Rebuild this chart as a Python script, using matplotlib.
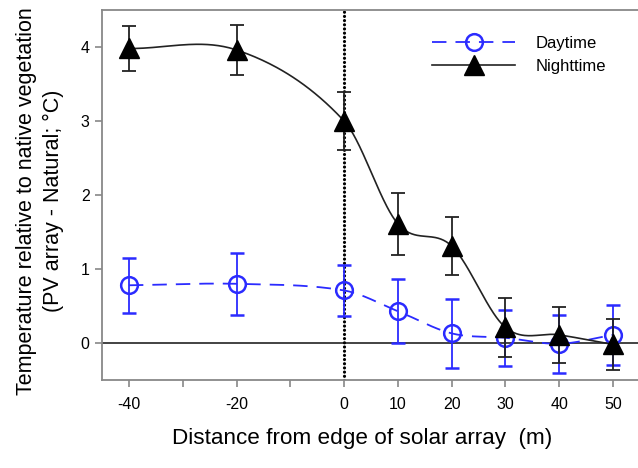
import numpy as np
import matplotlib
matplotlib.use("Agg")
import matplotlib.pyplot as plt
from matplotlib.lines import Line2D

plt.rcParams['font.family'] = ['Liberation Sans', 'DejaVu Sans']
plt.rcParams['axes.unicode_minus'] = False

# ---- data ----
distance = [-40, -20, 0, 10, 20, 30, 40, 50]
day_mean = [0.78, 0.80, 0.71, 0.43, 0.13, 0.07, -0.01, 0.11]
day_err = [0.37, 0.42, 0.34, 0.43, 0.47, 0.38, 0.39, 0.41]
night_mean = [3.98, 3.96, 3.00, 1.61, 1.31, 0.21, 0.11, -0.02]
night_err = [0.30, 0.34, 0.39, 0.42, 0.39, 0.40, 0.38, 0.34]
x_ticks = [-40, -20, 0, 10, 20, 30, 40, 50]
y_ticks = [0, 1, 2, 3, 4]


def spline_curve(x, y, n=60):
    """Catmull-Rom (cardinal) Hermite spline through the data points."""
    x = np.asarray(x, float)
    y = np.asarray(y, float)
    k = len(x)
    m = np.zeros(k)
    m[0] = (y[1] - y[0]) / (x[1] - x[0])
    m[-1] = (y[-1] - y[-2]) / (x[-1] - x[-2])
    for i in range(1, k - 1):
        m[i] = (y[i + 1] - y[i - 1]) / (x[i + 1] - x[i - 1])
    xs_all, ys_all = [], []
    for i in range(k - 1):
        h = x[i + 1] - x[i]
        t = np.linspace(0, 1, n)
        h00 = 2 * t ** 3 - 3 * t ** 2 + 1
        h10 = t ** 3 - 2 * t ** 2 + t
        h01 = -2 * t ** 3 + 3 * t ** 2
        h11 = t ** 3 - t ** 2
        xs_all.append(x[i] + t * h)
        ys_all.append(h00 * y[i] + h10 * h * m[i] + h01 * y[i + 1] + h11 * h * m[i + 1])
    return np.concatenate(xs_all), np.concatenate(ys_all)


blue = '#2b2bff'
fig = plt.figure(figsize=(6.38, 4.68), dpi=100)
ax = fig.add_axes([102 / 638, 88 / 468, 538 / 638, 370 / 468])

ax.axhline(0, color='#222222', lw=1.2, zorder=1)
ax.axvline(0, color='black', lw=2.3, linestyle=(0, (0.01, 1.3)),
           dash_capstyle='round', zorder=1)

# daytime
xs, ys = spline_curve(distance, day_mean)
ax.plot(xs, ys, color=blue, lw=1.3, dashes=(8, 5), zorder=2)
ax.errorbar(distance, day_mean, yerr=day_err, fmt='o', color=blue,
            mfc='none', mec=blue, mew=1.8, ms=12, ecolor=blue, elinewidth=1.3,
            capsize=5, capthick=1.3, zorder=3)

# nighttime
xs, ys = spline_curve(distance, night_mean)
ax.plot(xs, ys, color='#222222', lw=1.2, zorder=4)
ax.errorbar(distance, night_mean, yerr=night_err, fmt='^', color='black',
            ms=14, ecolor='#222222', elinewidth=1.3, capsize=5, capthick=1.3,
            zorder=5)

ax.set_xlim(-45, 55)
ax.set_ylim(-0.5, 4.5)
ax.set_xticks(x_ticks)
ax.set_xticks([-30, -10], minor=True)
ax.set_yticks(y_ticks)
ax.tick_params(axis='both', which='both', direction='out', length=5,
               width=1.2, color='#888888', labelsize=11.5, pad=4)
ax.tick_params(axis='x', pad=7)
for s in ['left', 'bottom', 'top']:
    ax.spines[s].set_color('#888888')
    ax.spines[s].set_linewidth(1.3)
ax.spines['right'].set_visible(False)

ax.set_xlabel('Distance from edge of solar array  (m)', fontsize=16.2)
ax.xaxis.set_label_coords((362 - 102) / 538, -48 / 370)
ax.set_ylabel('Temperature relative to native vegetation\n(PV array - Natural; °C)',
              fontsize=15.5, linespacing=1.38)
ax.yaxis.set_label_coords(-38 / 538, (380 - 201) / 370)

handles = [
    Line2D([], [], color=blue, lw=1.3, dashes=(8, 5), marker='o', ms=12,
           mfc='none', mec=blue, mew=1.8),
    Line2D([], [], color='#222222', lw=1.2, marker='^', ms=14, mfc='black',
           mec='black'),
]
ax.legend(handles, ['Daytime', 'Nighttime'], loc='upper left',
          bbox_to_anchor=(315 / 538, 0.97), frameon=False, fontsize=12,
          handlelength=5, handletextpad=1.2, labelspacing=0.45)

fig.savefig('out.png', dpi=100)
